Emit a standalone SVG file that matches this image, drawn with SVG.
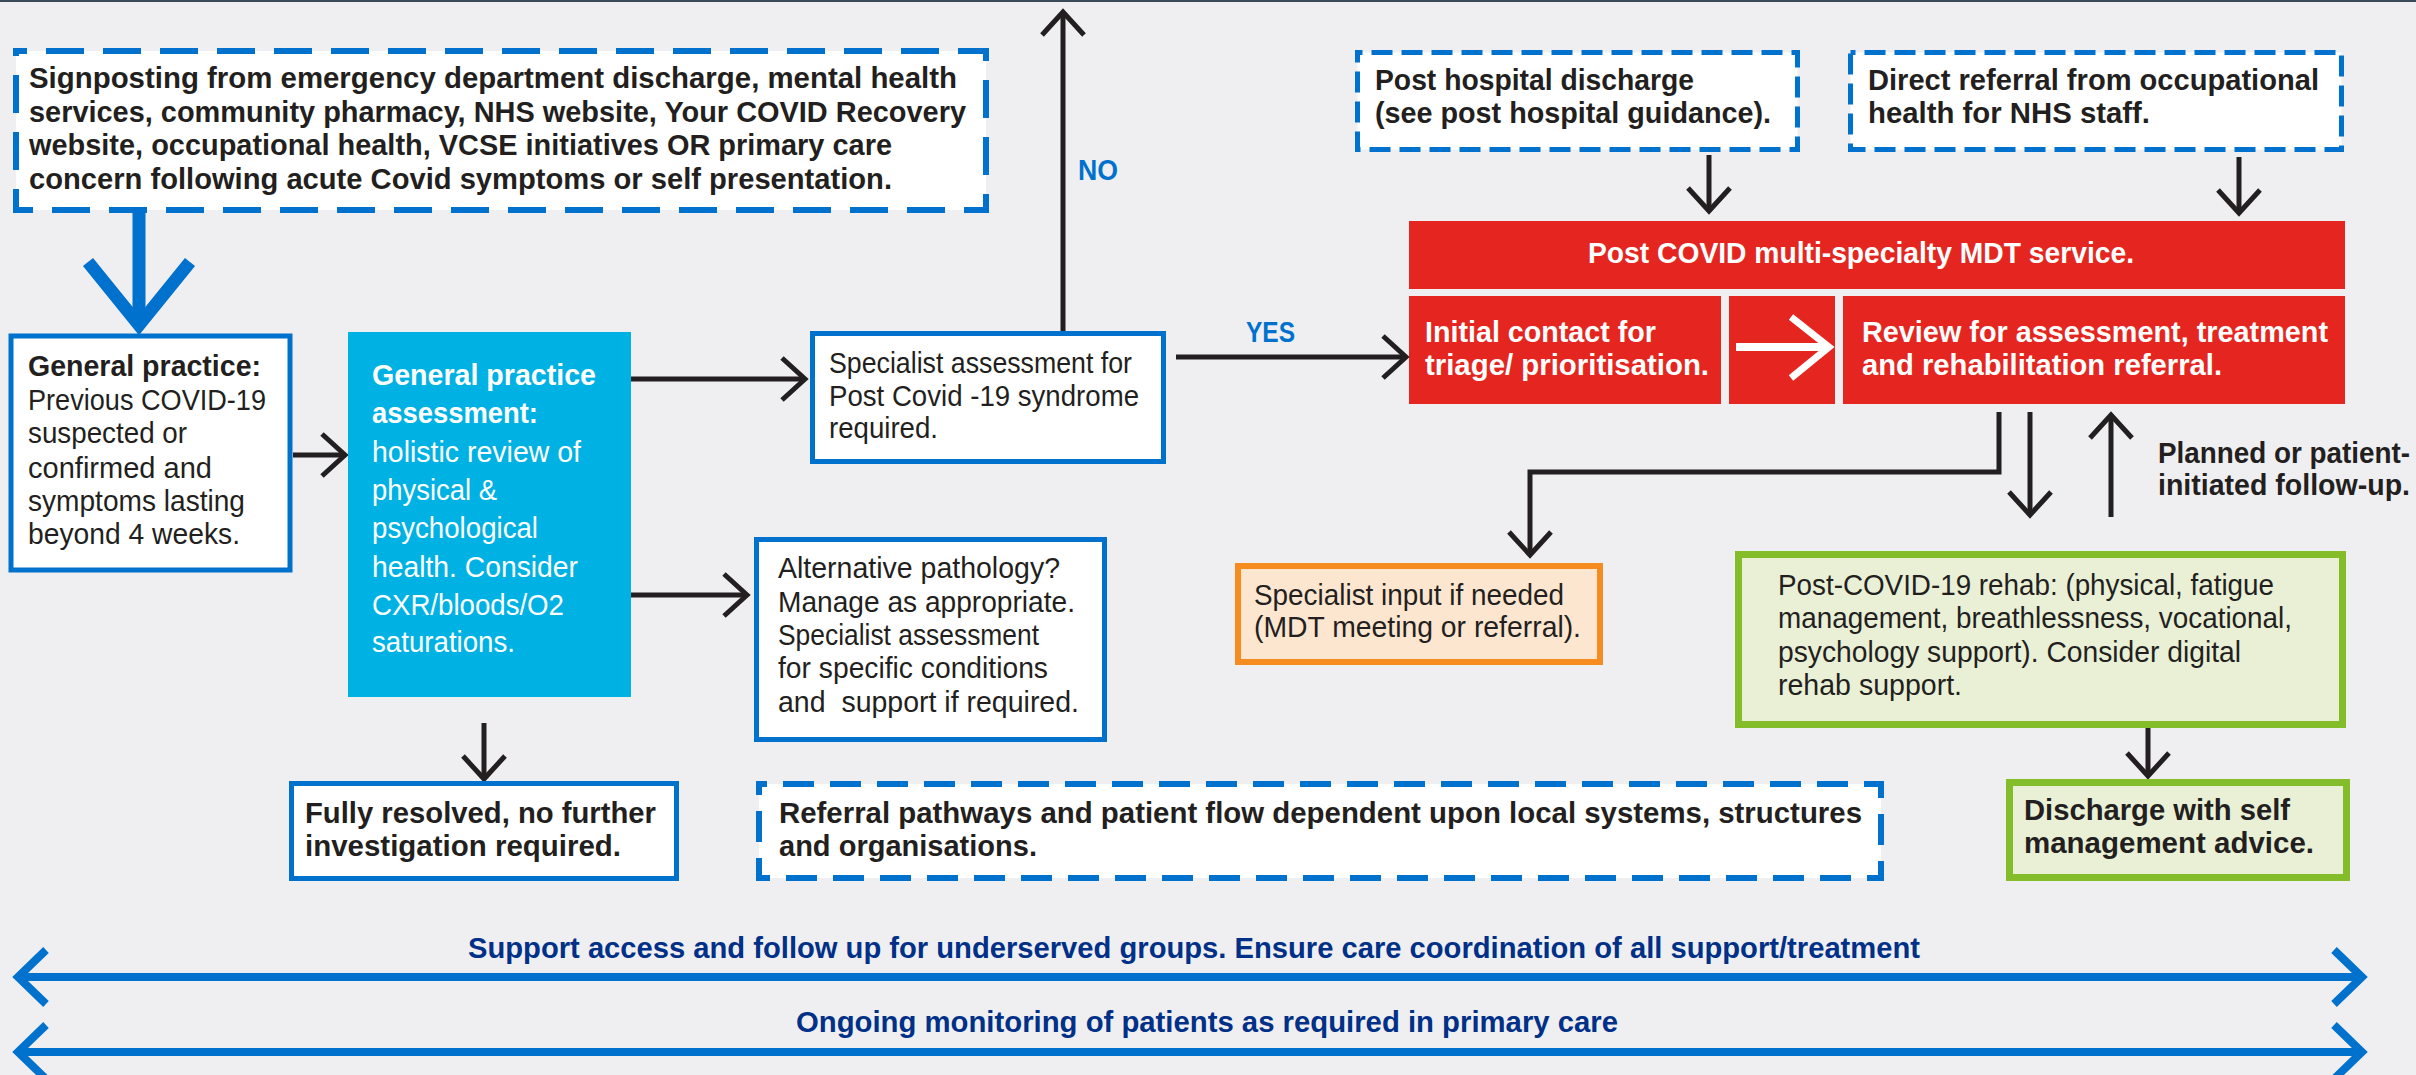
<svg xmlns="http://www.w3.org/2000/svg" width="2416" height="1075" viewBox="0 0 2416 1075">
<defs>
<style>
text{font-family:"Liberation Sans",Arial,sans-serif;font-size:29px;fill:#231f20;white-space:pre}
.b{font-weight:bold}
.w{fill:#ffffff}
.bl{fill:#0072ce;font-weight:bold}
.nv{fill:#003087;font-weight:bold}
.dash{fill:#ffffff;stroke:#0072ce}
.solid{fill:#ffffff;stroke:#0072ce;stroke-width:5}
.red{fill:#e52620}
.con{fill:none;stroke:#231f20;stroke-width:5}
.bigb{fill:none;stroke:#0072ce;stroke-width:8}
</style>
<marker id="ah" markerUnits="userSpaceOnUse" markerWidth="60" markerHeight="60" viewBox="-30 -30 60 60" refX="0" refY="0" orient="auto" overflow="visible">
<path d="M-23,-21 L0,0 L-23,21" fill="none" stroke="#231f20" stroke-width="5"/>
</marker>
<marker id="bh" markerUnits="userSpaceOnUse" markerWidth="80" markerHeight="80" viewBox="-40 -40 80 80" refX="0" refY="0" orient="auto-start-reverse" overflow="visible">
<path d="M-28,-27 L0,0 L-28,27" fill="none" stroke="#0072ce" stroke-width="8"/>
</marker>
</defs>
<rect x="0" y="0" width="2416" height="1075" fill="#efeff1"/>
<rect x="0" y="0" width="2416" height="2" fill="#3b4a5a"/>

<g id="connectors">
<line x1="139" y1="213" x2="139" y2="320" stroke="#0072ce" stroke-width="13"/>
<path d="M88,262 L139,325 L190,262" fill="none" stroke="#0072ce" stroke-width="13"/>
<line class="con" x1="1063" y1="331" x2="1063" y2="12" marker-end="url(#ah)"/>
<line class="con" x1="293" y1="455" x2="345" y2="455" marker-end="url(#ah)"/>
<line class="con" x1="631" y1="379" x2="805" y2="379" marker-end="url(#ah)"/>
<line class="con" x1="631" y1="595" x2="747" y2="595" marker-end="url(#ah)"/>
<line class="con" x1="1176" y1="357" x2="1406" y2="357" marker-end="url(#ah)"/>
<line class="con" x1="1709" y1="155" x2="1709" y2="211" marker-end="url(#ah)"/>
<line class="con" x1="2239" y1="157" x2="2239" y2="213" marker-end="url(#ah)"/>
<line class="con" x1="484" y1="723" x2="484" y2="779" marker-end="url(#ah)"/>
<path class="con" d="M1999,412 V472 H1530 V555" marker-end="url(#ah)"/>
<line class="con" x1="2030" y1="412" x2="2030" y2="515" marker-end="url(#ah)"/>
<line class="con" x1="2111" y1="517" x2="2111" y2="415" marker-end="url(#ah)"/>
<line class="con" x1="2148" y1="728" x2="2148" y2="776" marker-end="url(#ah)"/>
<line class="bigb" x1="18" y1="977" x2="2362" y2="977" marker-start="url(#bh)" marker-end="url(#bh)"/>
<line class="bigb" x1="18" y1="1052" x2="2362" y2="1052" marker-start="url(#bh)" marker-end="url(#bh)"/>
</g>

<g id="signposting">
<rect class="dash" x="16" y="51" width="970" height="159" stroke-width="6" stroke-dasharray="38 19" stroke-dashoffset="-30"/>
<text class="b" x="29" y="88" textLength="928" lengthAdjust="spacingAndGlyphs">Signposting from emergency department discharge, mental health</text>
<text class="b" x="29" y="122" textLength="937" lengthAdjust="spacingAndGlyphs">services, community pharmacy, NHS website, Your COVID Recovery</text>
<text class="b" x="29" y="155" textLength="863" lengthAdjust="spacingAndGlyphs">website, occupational health, VCSE initiatives OR primary care</text>
<text class="b" x="29" y="189" textLength="863" lengthAdjust="spacingAndGlyphs">concern following acute Covid symptoms or self presentation.</text>
</g>

<g id="no-label"><text class="bl" x="1078" y="180" textLength="40" lengthAdjust="spacingAndGlyphs">NO</text></g>
<g id="yes-label"><text class="bl" x="1246" y="342" textLength="49" lengthAdjust="spacingAndGlyphs">YES</text></g>

<g id="post-hospital">
<rect class="dash" x="1357.5" y="52.5" width="440" height="97" stroke-width="5" stroke-dasharray="21 9" stroke-dashoffset="-14"/>
<text class="b" x="1375" y="90" textLength="319" lengthAdjust="spacingAndGlyphs">Post hospital discharge</text>
<text class="b" x="1375" y="123" textLength="396" lengthAdjust="spacingAndGlyphs">(see post hospital guidance).</text>
</g>

<g id="direct-referral">
<rect class="dash" x="1850.5" y="52.5" width="491" height="97" stroke-width="5" stroke-dasharray="21 9" stroke-dashoffset="-14"/>
<text class="b" x="1868" y="90" textLength="451" lengthAdjust="spacingAndGlyphs">Direct referral from occupational</text>
<text class="b" x="1868" y="123" textLength="282" lengthAdjust="spacingAndGlyphs">health for NHS staff.</text>
</g>

<g id="mdt-service">
<rect class="red" x="1409" y="221" width="936" height="68"/>
<text class="b w" x="1588" y="263" textLength="546" lengthAdjust="spacingAndGlyphs">Post COVID multi-specialty MDT service.</text>
</g>

<g id="initial-contact">
<rect class="red" x="1409" y="296" width="312" height="108"/>
<text class="b w" x="1425" y="342" textLength="231" lengthAdjust="spacingAndGlyphs">Initial contact for</text>
<text class="b w" x="1425" y="375" textLength="284" lengthAdjust="spacingAndGlyphs">triage/ prioritisation.</text>
</g>

<g id="mdt-arrow">
<rect class="red" x="1729" y="296" width="106" height="108"/>
<line x1="1736" y1="347" x2="1826" y2="347" stroke="#ffffff" stroke-width="8"/>
<path d="M1791,317 L1829,347 L1791,378" fill="none" stroke="#ffffff" stroke-width="7"/>
</g>

<g id="review">
<rect class="red" x="1843" y="296" width="502" height="108"/>
<text class="b w" x="1862" y="342" textLength="466" lengthAdjust="spacingAndGlyphs">Review for assessment, treatment</text>
<text class="b w" x="1862" y="375" textLength="360" lengthAdjust="spacingAndGlyphs">and rehabilitation referral.</text>
</g>

<g id="general-practice">
<rect class="solid" x="11" y="336" width="279" height="234" stroke-width="6"/>
<text class="b" x="28" y="376" textLength="233" lengthAdjust="spacingAndGlyphs">General practice:</text>
<text x="28" y="410" textLength="238" lengthAdjust="spacingAndGlyphs">Previous COVID-19</text>
<text x="28" y="443" textLength="159" lengthAdjust="spacingAndGlyphs">suspected or</text>
<text x="28" y="478" textLength="184" lengthAdjust="spacingAndGlyphs">confirmed and</text>
<text x="28" y="511" textLength="217" lengthAdjust="spacingAndGlyphs">symptoms lasting</text>
<text x="28" y="544" textLength="212" lengthAdjust="spacingAndGlyphs">beyond 4 weeks.</text>
</g>

<g id="gp-assessment">
<rect x="348" y="332" width="283" height="365" fill="#00b2e3"/>
<text class="b w" x="372" y="385" textLength="224" lengthAdjust="spacingAndGlyphs">General practice</text>
<text class="b w" x="372" y="423" textLength="166" lengthAdjust="spacingAndGlyphs">assessment:</text>
<text class="w" x="372" y="462" textLength="209" lengthAdjust="spacingAndGlyphs">holistic review of</text>
<text class="w" x="372" y="500" textLength="125" lengthAdjust="spacingAndGlyphs">physical &amp;</text>
<text class="w" x="372" y="538" textLength="166" lengthAdjust="spacingAndGlyphs">psychological</text>
<text class="w" x="372" y="577" textLength="206" lengthAdjust="spacingAndGlyphs">health. Consider</text>
<text class="w" x="372" y="615" textLength="192" lengthAdjust="spacingAndGlyphs">CXR/bloods/O2</text>
<text class="w" x="372" y="652" textLength="143" lengthAdjust="spacingAndGlyphs">saturations.</text>
</g>

<g id="specialist-assessment">
<rect class="solid" x="812.5" y="333.5" width="351" height="128"/>
<text x="829" y="373" textLength="303" lengthAdjust="spacingAndGlyphs">Specialist assessment for</text>
<text x="829" y="406" textLength="310" lengthAdjust="spacingAndGlyphs">Post Covid -19 syndrome</text>
<text x="829" y="438" textLength="109" lengthAdjust="spacingAndGlyphs">required.</text>
</g>

<g id="alternative-pathology">
<rect class="solid" x="756.5" y="539.5" width="348" height="200"/>
<text x="778" y="578" textLength="282" lengthAdjust="spacingAndGlyphs">Alternative pathology?</text>
<text x="778" y="612" textLength="297" lengthAdjust="spacingAndGlyphs">Manage as appropriate.</text>
<text x="778" y="645" textLength="261" lengthAdjust="spacingAndGlyphs">Specialist assessment</text>
<text x="778" y="678" textLength="270" lengthAdjust="spacingAndGlyphs">for specific conditions</text>
<text x="778" y="712" textLength="301" lengthAdjust="spacingAndGlyphs">and  support if required.</text>
</g>

<g id="specialist-input">
<rect x="1238" y="566" width="362" height="96" fill="#fde6d0" stroke="#f68b1f" stroke-width="6"/>
<text x="1254" y="605" textLength="310" lengthAdjust="spacingAndGlyphs">Specialist input if needed</text>
<text x="1254" y="637" textLength="327" lengthAdjust="spacingAndGlyphs">(MDT meeting or referral).</text>
</g>

<g id="follow-up-label">
<text class="b" x="2158" y="463" textLength="252" lengthAdjust="spacingAndGlyphs">Planned or patient-</text>
<text class="b" x="2158" y="495" textLength="252" lengthAdjust="spacingAndGlyphs">initiated follow-up.</text>
</g>

<g id="rehab">
<rect x="1738.5" y="554.5" width="604" height="170" fill="#e9f0d6" stroke="#84bd2a" stroke-width="7"/>
<text x="1778" y="595" textLength="496" lengthAdjust="spacingAndGlyphs">Post-COVID-19 rehab: (physical, fatigue</text>
<text x="1778" y="628" textLength="514" lengthAdjust="spacingAndGlyphs">management, breathlessness, vocational,</text>
<text x="1778" y="662" textLength="463" lengthAdjust="spacingAndGlyphs">psychology support). Consider digital</text>
<text x="1778" y="695" textLength="184" lengthAdjust="spacingAndGlyphs">rehab support.</text>
</g>

<g id="discharge">
<rect x="2009.5" y="782.5" width="337" height="95" fill="#e9f0d6" stroke="#84bd2a" stroke-width="7"/>
<text class="b" x="2024" y="820" textLength="266" lengthAdjust="spacingAndGlyphs">Discharge with self</text>
<text class="b" x="2024" y="853" textLength="290" lengthAdjust="spacingAndGlyphs">management advice.</text>
</g>

<g id="fully-resolved">
<rect class="solid" x="291.5" y="783.5" width="385" height="95"/>
<text class="b" x="305" y="823" textLength="351" lengthAdjust="spacingAndGlyphs">Fully resolved, no further</text>
<text class="b" x="305" y="856" textLength="316" lengthAdjust="spacingAndGlyphs">investigation required.</text>
</g>

<g id="referral-pathways">
<rect class="dash" x="759" y="784" width="1122" height="94" stroke-width="6" stroke-dasharray="31 16" stroke-dashoffset="-24"/>
<text class="b" x="779" y="823" textLength="1083" lengthAdjust="spacingAndGlyphs">Referral pathways and patient flow dependent upon local systems, structures</text>
<text class="b" x="779" y="856" textLength="258" lengthAdjust="spacingAndGlyphs">and organisations.</text>
</g>

<g id="support-access">
<text class="nv" x="468" y="958" textLength="1452" lengthAdjust="spacingAndGlyphs">Support access and follow up for underserved groups. Ensure care coordination of all support/treatment</text>
</g>
<g id="ongoing-monitoring">
<text class="nv" x="796" y="1032" textLength="822" lengthAdjust="spacingAndGlyphs">Ongoing monitoring of patients as required in primary care</text>
</g>
</svg>
